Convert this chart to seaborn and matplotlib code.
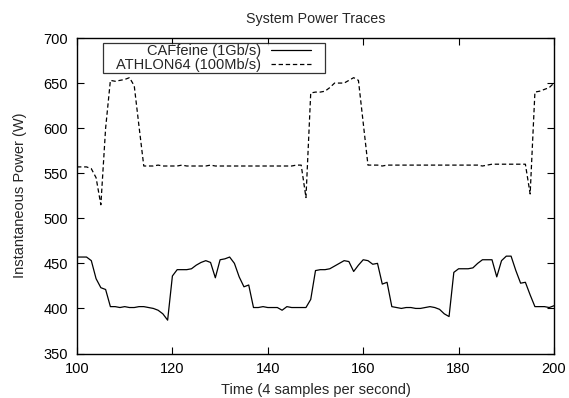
import numpy as np
import pandas as pd
import matplotlib
matplotlib.use("Agg")
import matplotlib.pyplot as plt
from matplotlib.path import Path
import seaborn as sns

sns.set_style("ticks")
plt.rcParams['font.family'] = ['Liberation Sans', 'DejaVu Sans']
plt.rcParams['font.size'] = 10.5

time = list(range(100, 201))

caffeine = [
    457, 457, 457, 453, 433, 423, 421, 402, 402, 401,   # 100-109
    402, 401, 401, 402, 402, 401, 400, 398, 394, 387,   # 110-119
    436, 443, 443, 443, 444, 448, 451, 453, 451, 434,   # 120-129
    454, 455, 457, 450, 435, 424, 426, 401, 401, 402,   # 130-139
    401, 401, 401, 398, 402, 401, 401, 401, 401, 410,   # 140-149
    442, 443, 443, 444, 447, 450, 453, 452, 441, 448,   # 150-159
    454, 453, 449, 450, 427, 429, 402, 401, 400, 401,   # 160-169
    401, 400, 400, 401, 402, 401, 399, 394, 391, 440,   # 170-179
    444, 444, 444, 445, 450, 454, 454, 454, 435, 453,   # 180-189
    458, 458, 442, 428, 429, 415, 402, 402, 402, 401,   # 190-199
    403,                                                # 200
]

athlon = [
    557, 557, 557, 555, 545, 515, 600, 653, 652, 653,   # 100-109
    654, 656, 647, 602, 558, 558, 558, 559, 558, 558,   # 110-119
    558, 558, 559, 558, 558, 558, 558, 558, 559, 558,   # 120-129
    558, 558, 558, 558, 558, 558, 558, 558, 558, 558,   # 130-139
    558, 558, 558, 558, 558, 558, 559, 559, 523, 639,   # 140-149
    640, 640, 641, 645, 650, 650, 650, 653, 656, 653,   # 150-159
    606, 559, 559, 559, 558, 559, 559, 559, 559, 559,   # 160-169
    559, 559, 559, 559, 559, 559, 559, 559, 559, 559,   # 170-179
    559, 559, 559, 559, 559, 558, 559, 560, 560, 560,   # 180-189
    560, 560, 560, 560, 560, 527, 640, 641, 643, 645,   # 190-199
    650,                                                # 200
]

labels = ["CAFfeine (1Gb/s)", "ATHLON64 (100Mb/s)"]

df = pd.DataFrame({
    "Time": time * 2,
    "Power": caffeine + athlon,
    "Series": [labels[0]] * len(time) + [labels[1]] * len(time),
})

W, H = 569, 398
fig = plt.figure(figsize=(W / 100, H / 100), dpi=100)
ax = fig.add_axes([77 / W, 1 - 353.5 / H, (554 - 77) / W, (353.5 - 38) / H])

sns.lineplot(
    data=df, x="Time", y="Power", hue="Series", style="Series",
    palette={labels[0]: "black", labels[1]: "black"},
    dashes={labels[0]: "", labels[1]: (3.5, 2.2)},
    linewidth=0.9, ax=ax, legend=True,
)

ax.set_xlim(100, 200)
ax.set_ylim(350, 700)
ax.set_xticks([100, 120, 140, 160, 180, 200])
ax.set_yticks([350, 400, 450, 500, 550, 600, 650, 700])
ax.tick_params(direction="in", length=5, width=0.8, top=True, right=True,
               labelsize=10.5, colors="black")
ax.tick_params(axis="y", pad=6.5)
ax.tick_params(axis="x", pad=6)
for s in ax.spines.values():
    s.set_visible(True)
    s.set_linewidth(1.0)
    s.set_color("black")

ax.set_xlabel("Time (4 samples per second)", fontsize=10.5, labelpad=5)
ax.set_ylabel("Instantaneous Power (W)", fontsize=10.5, labelpad=12)
ax.set_title("System Power Traces", fontsize=10.3, pad=11)

# asymmetric padding for the legend frame (gnuplot-like key box)
PAD_L, PAD_R, PAD_T, PAD_B = 13, 14, 1, 1


def key_box(x0, y0, width, height, mutation_size):
    xa, xb = x0 - PAD_L, x0 + width + PAD_R
    ya, yb = y0 - PAD_B, y0 + height + PAD_T
    return Path([(xa, ya), (xb, ya), (xb, yb), (xa, yb), (xa, ya)], closed=True)


handles, lbls = ax.get_legend_handles_labels()
leg = ax.legend(
    handles, lbls, loc="upper left",
    bbox_to_anchor=((103 + PAD_L) / W, 1 - (43 + PAD_T) / H),
    bbox_transform=fig.transFigure,
    markerfirst=False, frameon=True, fancybox=False, shadow=False,
    borderpad=0, labelspacing=0.0, handlelength=2.7, handletextpad=0.7,
    borderaxespad=0, fontsize=10.5,
)
frame = leg.get_frame()
frame.set_boxstyle(key_box)
frame.set_edgecolor("black")
frame.set_linewidth(0.9)
for t in leg.get_texts():
    t.set_ha("right")

fig.savefig("out.png", dpi=100)
